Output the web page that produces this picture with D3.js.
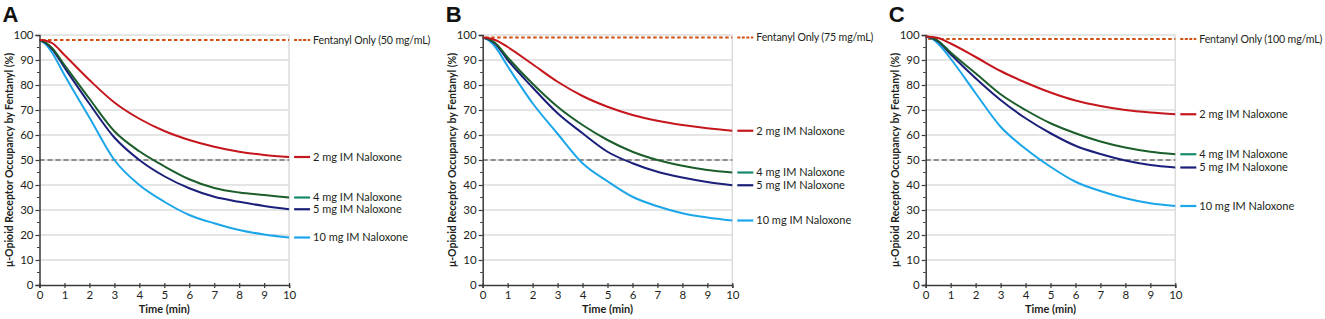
<!DOCTYPE html>
<html><head><meta charset="utf-8">
<script src="https://cdn.jsdelivr.net/npm/d3@7"></script>
<style>
body{margin:0;background:#fff;}
svg{display:block;font-family:Lato,"Open Sans",sans-serif;}
</style></head>
<body><svg id="c" width="1325" height="319"></svg>
<script>
const times = [0, 0.25, 0.5, 1, 2, 3, 4, 5, 6, 7, 8, 9, 10];
const panelLetters = ["A", "B", "C"];
const fentanylLabels = ["Fentanyl Only (50 mg/mL)", "Fentanyl Only (75 mg/mL)", "Fentanyl Only (100 mg/mL)"];
const fentanylOnly = [98, 99, 98.4];
const seriesNames = ["2 mg IM Naloxone", "4 mg IM Naloxone", "5 mg IM Naloxone", "10 mg IM Naloxone"];
// Panel A (50 mg/mL)
const a2mg  = [98, 97.7, 96.8, 92, 82, 73, 66.5, 61.6, 58, 55.3, 53.3, 52, 51.2];
const a4mg  = [98, 97, 94.8, 88, 74.5, 61.5, 53.5, 47.5, 42.3, 38.8, 37, 36, 35];
const a5mg  = [98, 96.8, 94.4, 87, 72.5, 59, 50, 43.5, 38.7, 35.3, 33.3, 31.6, 30.3];
const a10mg = [98, 96.3, 93, 84, 67, 50, 40, 33.3, 28, 24.7, 22, 20.2, 19];
// Panel B (75 mg/mL)
const b2mg  = [99, 98.7, 98, 95.2, 88.3, 81.3, 75.6, 71.3, 68, 65.7, 64, 62.7, 61.7];
const b4mg  = [99, 98.3, 96.8, 91, 80.5, 71.3, 64, 58, 53.3, 50, 47.7, 46, 45];
const b5mg  = [99, 98.2, 96.5, 90, 79, 68.7, 60.7, 53.3, 48.7, 45.3, 43, 41.2, 39.9];
const b10mg = [99, 97.8, 95.3, 87.5, 72.7, 60.5, 48.7, 41.5, 35.3, 31.5, 28.7, 27, 25.8];
// Panel C (100 mg/mL)
const c2mg  = [99.4, 99.2, 98.8, 96.6, 91.2, 85.6, 81, 77, 73.8, 71.6, 70, 69, 68.3];
const c4mg  = [99.4, 98.9, 97.6, 93, 84.7, 76.3, 70, 64.7, 60.7, 57.4, 55, 53.3, 52.3];
const c5mg  = [99.4, 98.8, 97.4, 92.3, 82.7, 74, 66.7, 60.7, 55.7, 52.4, 49.8, 48, 47];
const c10mg = [99.4, 98.5, 96.5, 90.5, 76.7, 63.3, 54.5, 47.3, 41.3, 37.6, 34.7, 32.7, 31.6];
const panelSeries = [[a2mg, a4mg, a5mg, a10mg], [b2mg, b4mg, b5mg, b10mg], [c2mg, c4mg, c5mg, c10mg]];
const xTicks = [0,1,2,3,4,5,6,7,8,9,10];
const yTicks = [0,10,20,30,40,50,60,70,80,90,100];
const threshold = 50;

const colors = ["#c4161c", "#1b5e2b", "#1b1f7a", "#1ca6ea"];
const legendColors = ["#c4161c", "#178a6c", "#1b1f7a", "#1ca6ea"];
const fentColor = "#d2500f";
const textColor = "#231f20";

const svg = d3.select("#c");
const panelX = [39.5, 482.7, 925.7];
const plotW = 249.6, plotTop = 35, plotBottom = 285;

panelX.forEach((px, i) => {
  const x = d3.scaleLinear().domain([0, 10]).range([px, px + plotW]);
  const y = d3.scaleLinear().domain([0, 100]).range([plotBottom, plotTop]);
  const g = svg.append("g");

  g.selectAll("line.grid").data(yTicks.filter(v => v > 0)).join("line")
    .attr("x1", x(0)).attr("x2", x(10)).attr("y1", d => y(d)).attr("y2", d => y(d))
    .attr("stroke", "#dcdcdc").attr("stroke-width", 1.5);
  g.append("line").attr("x1", x(10)).attr("x2", x(10)).attr("y1", y(100)).attr("y2", y(0))
    .attr("stroke", "#dcdcdc").attr("stroke-width", 1.5);

  g.append("line").attr("x1", x(0)).attr("x2", x(10)).attr("y1", y(threshold)).attr("y2", y(threshold))
    .attr("stroke", "#6d6d6d").attr("stroke-width", 1.3).attr("stroke-dasharray", "5,3");

  const yAxis = d3.axisLeft(y).tickValues(yTicks).tickSize(4).tickPadding(2);
  const yg = g.append("g").attr("transform", `translate(${x(0)},0)`).call(yAxis);
  const xAxis = d3.axisBottom(x).tickValues(xTicks).tickSize(3).tickPadding(3);
  const xg = g.append("g").attr("transform", `translate(0,${y(0)})`).call(xAxis);
  [yg, xg].forEach(ax => {
    ax.select(".domain").attr("stroke", "#3a3a3a").attr("stroke-width", 1.5);
    ax.selectAll(".tick line").attr("stroke", "#3a3a3a").attr("stroke-width", 1.2);
    ax.selectAll(".tick text").attr("fill", textColor).attr("font-size", 11.5)
      .attr("font-family", "Lato, 'Open Sans', sans-serif");
  });
  xg.selectAll(".tick line").attr("y1", -2).attr("y2", 3);
  g.selectAll("line.minor").data(d3.range(5, 100, 10)).join("line")
    .attr("x1", x(0) - 2.5).attr("x2", x(0)).attr("y1", d => y(d)).attr("y2", d => y(d))
    .attr("stroke", "#3a3a3a").attr("stroke-width", 1);

  g.append("line").attr("x1", x(0.1)).attr("x2", x(10)).attr("y1", y(fentanylOnly[i])).attr("y2", y(fentanylOnly[i]))
    .attr("stroke", fentColor).attr("stroke-width", 2).attr("stroke-dasharray", "3.5,2.5");

  const line = d3.line().x((d, j) => x(times[j])).y(d => y(d)).curve(d3.curveMonotoneX);
  panelSeries[i].slice().reverse().forEach((vals, jr) => {
    const j = 3 - jr;
    g.append("path").datum(vals).attr("d", line).attr("fill", "none")
      .attr("stroke", colors[j]).attr("stroke-width", 2);
  });

  const lx0 = x(10) + 5, lx1 = x(10) + 21, tx = x(10) + 24;
  g.append("line").attr("x1", lx0).attr("x2", lx1).attr("y1", y(fentanylOnly[i])).attr("y2", y(fentanylOnly[i]))
    .attr("stroke", fentColor).attr("stroke-width", 2).attr("stroke-dasharray", "3,1.5");
  g.append("text").attr("x", tx).attr("y", y(fentanylOnly[i])).attr("dy", "0.35em")
    .attr("font-size", 10.6).attr("letter-spacing", "-0.15").attr("fill", textColor).text(fentanylLabels[i]);
  panelSeries[i].forEach((vals, j) => {
    const v = vals[vals.length - 1];
    g.append("line").attr("x1", lx0).attr("x2", lx1).attr("y1", y(v)).attr("y2", y(v))
      .attr("stroke", legendColors[j]).attr("stroke-width", 2.2);
    g.append("text").attr("x", tx).attr("y", y(v)).attr("dy", "0.35em")
      .attr("font-size", 11).attr("fill", textColor).text(seriesNames[j]);
  });

  g.append("text").attr("x", x(5)).attr("y", 313).attr("text-anchor", "middle")
    .attr("font-size", 11).attr("font-weight", "bold").attr("fill", textColor).text("Time (min)");
  g.append("text").attr("transform", `translate(${px - 27},${(plotTop + plotBottom) / 2}) rotate(-90)`)
    .attr("text-anchor", "middle").attr("font-size", 10.5).attr("font-weight", "bold").attr("fill", textColor)
    .text("μ-Opioid Receptor Occupancy by Fentanyl (%)");
  g.append("text").attr("x", px - 37).attr("y", 22)
    .attr("font-size", 22).attr("font-weight", "bold").attr("fill", "#111")
    .attr("font-family", "Liberation Sans, Arial, sans-serif").text(panelLetters[i]);
});
</script></body></html>
